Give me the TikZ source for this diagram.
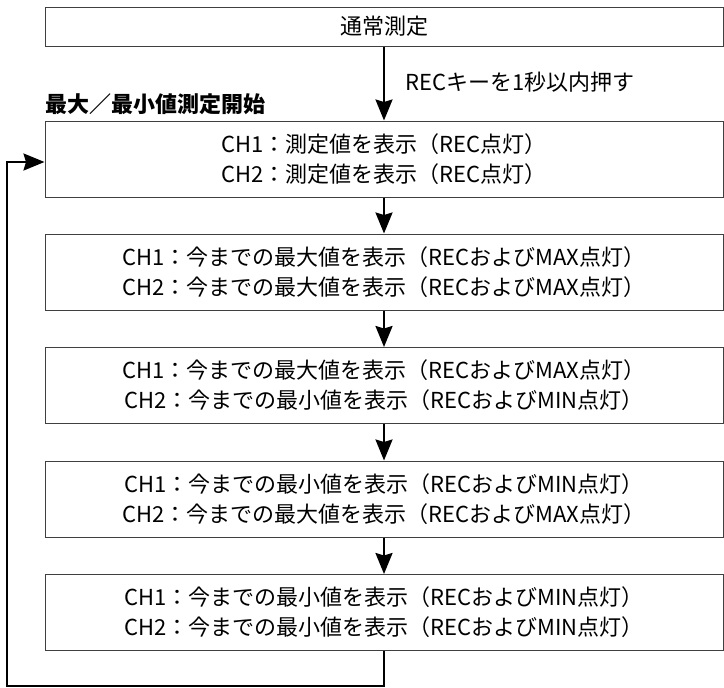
\documentclass[tikz,border=0pt]{standalone}
\usepackage{fontspec}
\setmainfont{Noto Sans CJK JP}
\usetikzlibrary{arrows.meta}
\begin{document}
\begin{tikzpicture}[x=1pt,y=-1pt,
  box/.style={draw=black!75, line width=1pt, minimum width=678pt, inner sep=0pt,
    align=center, text=black, font=\fontsize{22}{30}\selectfont},
  arr/.style={draw=black, line width=2.2pt, -{Stealth[length=21pt,width=17pt,inset=2.5pt]}},
  lbl/.style={text=black, inner sep=0pt, anchor=west}]
\useasboundingbox (0,0) rectangle (724,688);
\node[box, minimum height=39pt] (b1) at (384,26.5) {通常測定};
\node[box, minimum height=76pt] (b2) at (384,159) {CH1：測定値を表示（REC点灯）\\CH2：測定値を表示（REC点灯）};
\node[box, minimum height=76pt] (b3) at (384,272) {CH1：今までの最大値を表示（RECおよびMAX点灯）\\CH2：今までの最大値を表示（RECおよびMAX点灯）};
\node[box, minimum height=76pt] (b4) at (384,385.5) {CH1：今までの最大値を表示（RECおよびMAX点灯）\\CH2：今までの最小値を表示（RECおよびMIN点灯）};
\node[box, minimum height=76pt] (b5) at (384,499) {CH1：今までの最小値を表示（RECおよびMIN点灯）\\CH2：今までの最大値を表示（RECおよびMAX点灯）};
\node[box, minimum height=76pt] (b6) at (384,612.5) {CH1：今までの最小値を表示（RECおよびMIN点灯）\\CH2：今までの最小値を表示（RECおよびMIN点灯）};
\node[lbl, font=\fontsize{22}{26}\selectfont\bfseries] (head) at (45,104) {最大／最小値測定開始};
\node[lbl, font=\fontsize{22}{26}\selectfont] (key) at (405,82) {RECキーを1秒以内押す};
\draw[arr] (b1.south) -- (b2.north);
\draw[arr] (b2.south) -- (b3.north);
\draw[arr] (b3.south) -- (b4.north);
\draw[arr] (b4.south) -- (b5.north);
\draw[arr] (b5.south) -- (b6.north);
\coordinate (c1) at (384,686);
\coordinate (c2) at (7,686);
\coordinate (c3) at (7,162);
\coordinate (c4) at (45,162);
\draw[arr] (b6.south) -- (c1) -- (c2) -- (c3) -- (c4 -| b2.west);
\end{tikzpicture}
\end{document}
